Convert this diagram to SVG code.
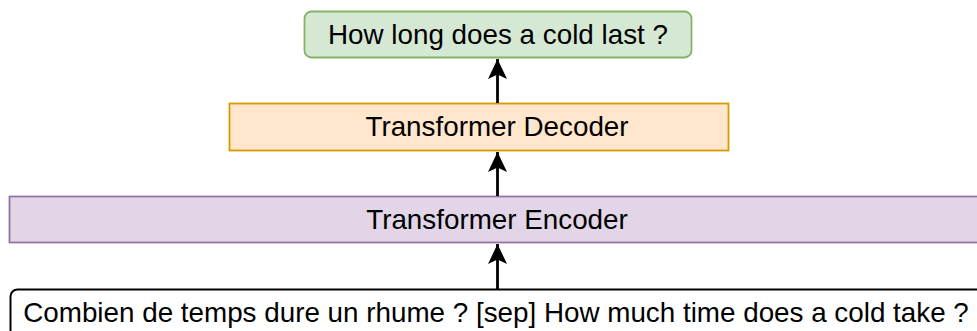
<svg xmlns="http://www.w3.org/2000/svg" width="977" height="331" viewBox="0 0 977 331">
<defs>
<style>
text{font-family:"Liberation Sans",Arial,sans-serif;font-size:27.8px;fill:#000;text-anchor:middle;dominant-baseline:central}
.edge{stroke:#000;stroke-width:2.8;fill:none}
</style>
<marker id="ah" viewBox="0 0 20 20" refX="20" refY="10" markerWidth="20" markerHeight="20" orient="auto" markerUnits="userSpaceOnUse">
<path d="M0,0.5 L20,10 L0,19.5 L4.5,10 Z" fill="#000"/>
</marker>
</defs>
<rect width="977" height="331" fill="#fff"/>
<g id="output">
<rect x="304.5" y="11.5" width="387" height="46" rx="7" fill="#d5e8d4" stroke="#82b366" stroke-width="1.8"/>
<text x="498" y="34">How long does a cold last ?</text>
</g>
<g id="decoder">
<rect x="229.5" y="103.5" width="499" height="47" fill="#ffe6cc" stroke="#d79b00" stroke-width="1.8"/>
<text x="497" y="126.5">Transformer Decoder</text>
</g>
<g id="encoder">
<rect x="9.5" y="196.5" width="976" height="46" fill="#e1d5e7" stroke="#9673a6" stroke-width="1.8"/>
<text x="497" y="219">Transformer Encoder</text>
</g>
<g id="input">
<rect x="10.5" y="289.5" width="976" height="50" rx="7" fill="#fff" stroke="#000" stroke-width="2"/>
<text x="496" y="312.5">Combien de temps dure un rhume ? [sep] How much time does a cold take ?</text>
</g>
<g id="connectors">
<line class="edge" x1="497.5" y1="103" x2="497.5" y2="59" marker-end="url(#ah)"/>
<line class="edge" x1="497.5" y1="196" x2="497.5" y2="152" marker-end="url(#ah)"/>
<line class="edge" x1="497.5" y1="289" x2="497.5" y2="244" marker-end="url(#ah)"/>
</g>
</svg>
